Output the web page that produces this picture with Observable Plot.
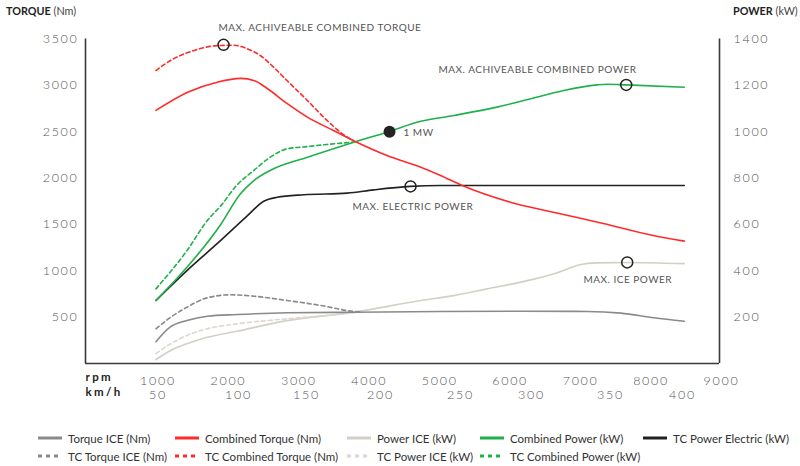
<!DOCTYPE html>
<html><head><meta charset="utf-8">
<script src="https://cdn.jsdelivr.net/npm/d3@7"></script>
<script src="https://cdn.jsdelivr.net/npm/@observablehq/plot@0.6"></script>
<style>
body{margin:0;background:#fff;font-family:Lato,"Open Sans",sans-serif;}
#wrap{position:relative;width:800px;height:466px;overflow:hidden;}
.atitle{position:absolute;top:4px;font-size:10.8px;color:#222;white-space:nowrap;}
.atitle b{font-weight:700;}
.atitle span{color:#444;}
.leg{position:absolute;display:flex;align-items:center;font-size:11.5px;color:#333;white-space:nowrap;}
.leg svg{margin-right:6px;}
</style>
</head><body>
<div id="wrap"></div>
<script>
// ---- axes ticks ----
const rpmTicks = [1000, 2000, 3000, 4000, 5000, 6000, 7000, 8000, 9000];
const kmhLabels = [50, 100, 150, 200, 250, 300, 350, 400];
const kmhAtRpm = [1000, 2144, 3109, 4159, 5294, 6303, 7424, 8446];
const torqueTicks = [500, 1000, 1500, 2000, 2500, 3000, 3500];
const powerTicks = [200, 400, 600, 800, 1000, 1200, 1400];

// ---- series: [rpm, value] ----
const torqueICE = [[1000,235],[1200,392],[1440,464],[1730,510],[2150,528],[2860,547],[3810,553],[5040,561],[6180,564],[7120,561],[7600,543],[8070,493],[8500,456]];
const tcTorqueICE = [[1000,374],[1210,499],[1440,607],[1730,709],[2060,741],[2390,726],[2860,680],[3340,626],[3810,561],[3900,556]];
const combinedTorque = [[1000,2730],[1450,2926],[1870,3034],[2200,3075],[2400,3050],[2580,2966],[2860,2805],[3150,2657],[3520,2513],[3800,2405],[4280,2243],[4760,2117],[5040,2028],[5340,1922],[6030,1740],[6640,1632],[7350,1510],[8060,1381],[8500,1320]];
const tcCombinedTorque = [[1000,3160],[1250,3287],[1540,3376],[1900,3430],[2100,3432],[2300,3394],[2480,3322],[2670,3196],[2860,3052],[3150,2837],[3430,2621],[3715,2441],[3800,2405]];
const powerICE = [[1000,17],[1210,56],[1440,85],[1730,113],[2150,139],[2860,185],[3810,221],[4760,272],[5230,293],[5700,322],[6180,351],[6650,387],[6840,408],[7030,427],[7260,434],[7690,436],[8500,431]];
const tcPowerICE = [[1000,42],[1210,85],[1440,121],[1730,150],[2150,171],[2860,193],[3570,211],[3900,222]];
const combinedPower = [[1000,272],[1440,415],[1920,600],[2200,732],[2390,789],[2670,840],[3150,890],[3810,955],[4280,998],[4760,1045],[5230,1070],[5840,1106],[6320,1142],[6790,1178],[7260,1202],[7410,1205],[7680,1202],[8500,1192]];
const tcCombinedPower = [[1000,322],[1440,487],[1730,617],[1920,680],[2150,770],[2390,833],[2600,885],[2860,926],[3150,936],[3430,945],[3800,955]];
const tcPowerElectric = [[1000,272],[1440,401],[1920,531],[2300,638],[2530,700],[2720,717],[3100,728],[3715,735],[4090,749],[4610,764],[5040,768],[8500,768]];

// ---- markers / annotations ----
const openTorqueMarkers = [[1960,3437]];
const openPowerMarkers = [[7676,1202],[4614,764],[7690,436]];
const filledPowerMarkers = [[4316,1000]];
const torqueNotes = [[1888,3624,"MAX. ACHIVEABLE COMBINED TORQUE"]];
const powerNotes = [[5011,1268,"MAX. ACHIVEABLE COMBINED POWER"],[4514,997,"1 MW"],[3790,677,"MAX. ELECTRIC POWER"],[7070,362,"MAX. ICE POWER"]];

// ---- legend ----
const legendRow1 = ["Torque ICE (Nm)","Combined Torque (Nm)","Power ICE (kW)","Combined Power (kW)","TC Power Electric (kW)"];
const legendRow2 = ["TC Torque ICE (Nm)","TC Combined Torque (Nm)","TC Power ICE (kW)","TC Combined Power (kW)"];

const C = {grey:"#8a8a8a", red:"#ff2b2b", light:"#d3cfc7", lightDash:"#dcd8d1", green:"#1fb04b", black:"#222"};
const K = 2.5; // power -> torque axis factor (1400 kW = 3500 Nm)

function ln(data, stroke, dashed, power){
  return Plot.line(data, {x: d=>d[0], y: d=> power ? d[1]*K : d[1], stroke, strokeWidth:1.6,
    strokeDasharray: dashed ? "4,3" : null, curve:"monotone-x"});
}

const chart = Plot.plot({
  width:800, height:415,
  marginLeft:85, marginRight:81, marginTop:38.5, marginBottom:52,
  x:{domain:[0,9000], axis:null}, y:{domain:[0,3500], axis:null},
  style:{fontFamily:"Lato, 'Open Sans', sans-serif", color:"#444", background:"transparent", overflow:"visible"},
  marks:[
    Plot.axisY(torqueTicks, {anchor:"left", tickSize:0, tickPadding:7, fontSize:12.5, fill:"#555", label:null, tickFormat:d=>String(d)}),
    Plot.axisY(powerTicks.map(p=>p*K), {anchor:"right", tickSize:0, tickPadding:14, fontSize:12.5, fill:"#555", label:null, tickFormat:d=>String(Math.round(d/K))}),
    Plot.axisX(rpmTicks, {anchor:"bottom", tickSize:0, tickPadding:12.5, fontSize:12.5, fill:"#555", label:null, dx:2, tickFormat:d=>String(d)}),
    Plot.axisX(kmhAtRpm, {anchor:"bottom", tickSize:0, tickPadding:27, fontSize:12.5, fill:"#555", label:null, dx:2, tickFormat:d=>String(kmhLabels[kmhAtRpm.indexOf(d)])}),
    Plot.text(["rpm"], {frameAnchor:"bottom-left", dy:17.5, textAnchor:"start", fontSize:11.5, fontWeight:700, fill:"#222"}),
    Plot.text(["km/h"], {frameAnchor:"bottom-left", dy:32, textAnchor:"start", fontSize:11.5, fontWeight:700, fill:"#222"}),
    ln(powerICE, C.light, false, true),
    ln(tcPowerICE, C.lightDash, true, true),
    ln(torqueICE, C.grey, false, false),
    ln(tcTorqueICE, C.grey, true, false),
    ln(tcPowerElectric, C.black, false, true),
    ln(tcCombinedPower, C.green, true, true),
    ln(combinedPower, C.green, false, true),
    ln(tcCombinedTorque, C.red, true, false),
    ln(combinedTorque, C.red, false, false),
    Plot.ruleX([0, 9000], {y1:0, y2:3500, stroke:"#3a3a3a", strokeWidth:1.6}),
    Plot.ruleY([0], {x1:0, x2:9000, stroke:"#3a3a3a", strokeWidth:1.6}),
    Plot.dot(openTorqueMarkers, {x:d=>d[0], y:d=>d[1], r:5.5, stroke:"#222", strokeWidth:1.5, fill:"none"}),
    Plot.dot(openPowerMarkers, {x:d=>d[0], y:d=>d[1]*K, r:5.5, stroke:"#222", strokeWidth:1.5, fill:"none"}),
    Plot.dot(filledPowerMarkers, {x:d=>d[0], y:d=>d[1]*K, r:6, fill:"#222", stroke:"none"}),
    Plot.text(torqueNotes, {x:d=>d[0], y:d=>d[1], text:d=>d[2], textAnchor:"start", fontSize:10, fill:"#555"}),
    Plot.text(powerNotes, {x:d=>d[0], y:d=>d[1]*K, text:d=>d[2], textAnchor:"start", fontSize:10, fill:"#555"})
  ]
});

// letter spacing by text role
d3.select(chart).selectAll("text").each(function(){
  const t = this.textContent.trim();
  const s = d3.select(this);
  if (/^\d+$/.test(t)) s.style("letter-spacing","1.7px").style("font-weight","300");
  else if (t === "rpm" || t === "km/h") s.style("letter-spacing","2.4px");
  else s.style("letter-spacing","0.5px");
});

const wrap = document.getElementById("wrap");
wrap.appendChild(chart);
chart.style.position = "absolute"; chart.style.left = "0"; chart.style.top = "0";

function addTitle(left, bold, rest){
  const d = document.createElement("div");
  d.className = "atitle"; d.style.left = left + "px";
  d.innerHTML = "<b>" + bold + "</b> <span>" + rest + "</span>";
  wrap.appendChild(d);
}
addTitle(6, "TORQUE", "(Nm)");
addTitle(733, "POWER", "(kW)");

const cols = [38, 175, 347, 480, 643];
const row1Styles = [[C.grey,false],[C.red,false],[C.light,false],[C.green,false],[C.black,false]];
const row2Styles = [[C.grey,true],[C.red,true],[C.lightDash,true],[C.green,true]];
function addLeg(labels, styles, top){
  labels.forEach((lab,i)=>{
    const d = document.createElement("div");
    d.className = "leg"; d.style.left = cols[i] + "px"; d.style.top = (top - 8) + "px"; d.style.height = "16px";
    const [c, dash] = styles[i];
    d.innerHTML = '<svg width="24" height="6"><line x1="0" y1="3" x2="24" y2="3" stroke="' + c + '" stroke-width="3"' + (dash ? ' stroke-dasharray="4,4"' : '') + '/></svg><span>' + lab + '</span>';
    wrap.appendChild(d);
  });
}
addLeg(legendRow1, row1Styles, 438);
addLeg(legendRow2, row2Styles, 456);
</script>
</body></html>
